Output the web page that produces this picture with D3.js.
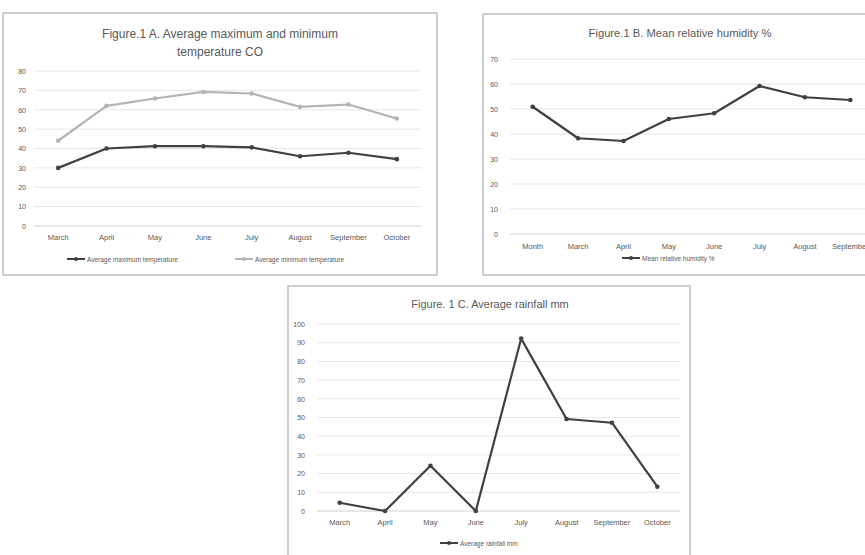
<!DOCTYPE html>
<html>
<head>
<meta charset="utf-8">
<script src="https://cdn.jsdelivr.net/npm/d3@7"></script>
<style>
  body { margin: 0; background: #fff; }
  svg { display: block; font-family: "Liberation Sans", Arial, sans-serif; }
</style>
</head>
<body>
<svg id="chart" width="865" height="555"></svg>
<script>
// values
const monthsA = ["March", "April", "May", "June", "July", "August", "September", "October"];
const avgMaxTemp = [30, 40, 41.2, 41.2, 40.6, 36, 37.8, 34.5];
const avgMinTemp = [44, 62, 65.8, 69.2, 68.4, 61.5, 62.7, 55.5];
const ticksA = [0, 10, 20, 30, 40, 50, 60, 70, 80];

const monthsB = ["Month", "March", "April", "May", "June", "July", "August", "September"];
const humidity = [50.9, 38.3, 37.2, 46, 48.3, 59.2, 54.7, 53.6];
const ticksB = [0, 10, 20, 30, 40, 50, 60, 70];

const monthsC = ["March", "April", "May", "June", "July", "August", "September", "October"];
const rainfall = [4.4, 0, 24.2, 0, 92.2, 49.2, 47.2, 13];
const ticksC = [0, 10, 20, 30, 40, 50, 60, 70, 80, 90, 100];

const svg = d3.select("#chart");
const textGrey = "#595959";

function drawPanel(p) {
    let g = svg.append("g");

    // outer frame
    g.append("rect")
     .attr("x", p.box[0]).attr("y", p.box[1])
     .attr("width", p.box[2]).attr("height", p.box[3])
     .attr("fill", "#fff").attr("stroke", "#bfbfbf").attr("stroke-width", 1.5);

    // title lines
    p.title.forEach((t, i) => {
        g.append("text")
         .attr("x", p.titleX).attr("y", p.titleY + i * 18)
         .attr("text-anchor", "middle")
         .attr("font-size", p.titleSize)
         .attr("fill", textGrey)
         .text(t);
    });

    let x = d3.scaleBand().domain(p.cats).range([p.plot[0], p.plot[1]]);
    let y = d3.scaleLinear().domain([0, p.yMax]).range([p.plot[3], p.plot[2]]);

    // y labels
    let yAxis = d3.axisLeft(y).tickValues(p.ticks).tickSize(0).tickPadding(p.pad);
    let ya = g.append("g")
      .attr("transform", "translate(" + p.plot[0] + ",0)")
      .call(yAxis);
    ya.select(".domain").remove();
    ya.selectAll("text")
      .attr("font-size", 7)
      .attr("font-family", "Liberation Sans, Arial, sans-serif")
      .attr("fill", textGrey);

    // gridlines
    g.append("g").selectAll("line")
      .data(p.ticks)
      .enter().append("line")
      .attr("x1", p.plot[0]).attr("x2", p.plot[1])
      .attr("y1", d => y(d)).attr("y2", d => y(d))
      .attr("stroke", d => d === 0 ? "#d0d0d0" : "#e6e6e6")
      .attr("stroke-width", 1);

    // x labels
    let xAxis = d3.axisBottom(x).tickSize(0).tickPadding(p.xPad);
    let xa = g.append("g")
      .attr("transform", "translate(0," + p.plot[3] + ")")
      .call(xAxis);
    xa.select(".domain").remove();
    xa.selectAll("text")
      .attr("font-size", 7.5)
      .attr("font-family", "Liberation Sans, Arial, sans-serif")
      .attr("fill", textGrey);

    let line = d3.line()
        .x((d, i) => x(p.cats[i]) + x.bandwidth() / 2)
        .y(d => y(d));

    p.series.forEach(s => {
        g.append("path")
         .datum(s.values)
         .attr("d", line)
         .attr("fill", "none")
         .attr("stroke", s.color)
         .attr("stroke-width", 2.2)
         .attr("stroke-linejoin", "round");
        g.selectAll(null)
         .data(s.values)
         .enter().append("circle")
         .attr("cx", (d, i) => x(p.cats[i]) + x.bandwidth() / 2)
         .attr("cy", d => y(d))
         .attr("r", 2.3)
         .attr("fill", s.color);
    });

    // legend
    p.series.forEach(s => {
        let lg = g.append("g").attr("transform", "translate(" + s.legend[0] + "," + s.legend[1] + ")");
        lg.append("line").attr("x1", 0).attr("x2", 18).attr("y1", 0).attr("y2", 0)
          .attr("stroke", s.color).attr("stroke-width", 2);
        lg.append("circle").attr("cx", 9).attr("cy", 0).attr("r", 2).attr("fill", s.color);
        lg.append("text").attr("x", 20).attr("y", 2.5)
          .attr("font-size", 6.5).attr("fill", textGrey)
          .text(s.name);
    });
}

drawPanel({
    box: [3, 13, 434, 262],
    title: ["Figure.1 A. Average maximum and minimum", "temperature CO"],
    titleX: 220, titleY: 38, titleSize: 12,
    cats: monthsA, yMax: 80, ticks: ticksA,
    plot: [34, 421, 71, 226], pad: 8, xPad: 9,
    series: [
        { name: "Average maximum temperature", values: avgMaxTemp, color: "#404040", legend: [67, 259] },
        { name: "Average minimum temperature", values: avgMinTemp, color: "#b4b4b4", legend: [235, 259] }
    ]
});

drawPanel({
    box: [483, 14, 420, 261],
    title: ["Figure.1 B. Mean relative humidity %"],
    titleX: 680, titleY: 37, titleSize: 11.2,
    cats: monthsB, yMax: 70, ticks: ticksB,
    plot: [510, 873, 59, 234], pad: 12, xPad: 10,
    series: [
        { name: "Mean relative humidity %", values: humidity, color: "#404040", legend: [622, 258] }
    ]
});

drawPanel({
    box: [288, 286, 402, 290],
    title: ["Figure. 1 C.  Average rainfall mm"],
    titleX: 490, titleY: 308, titleSize: 11,
    cats: monthsC, yMax: 100, ticks: ticksC,
    plot: [317, 680, 324, 511], pad: 12, xPad: 9,
    series: [
        { name: "Average rainfall mm", values: rainfall, color: "#404040", legend: [440, 543] }
    ]
});
</script>
</body>
</html>
